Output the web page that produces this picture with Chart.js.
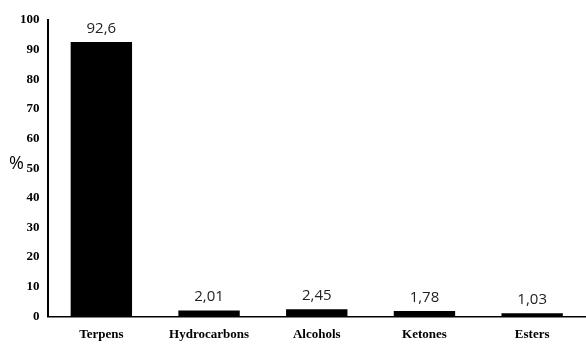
<!DOCTYPE html>
<html lang="en">

<head>
    <meta charset="UTF-8">
    <title>Composition</title>
    <style>
        html, body { margin: 0; padding: 0; background: #fff; }
        .container-grafico { width: 586px; height: 344px; }
    </style>
</head>

<body>
    <div class="container-grafico">
        <canvas id="graficoClasses"></canvas>
    </div>
</body>

</html>
<script src="https://cdn.jsdelivr.net/npm/chart.js"></script>
<script>
    const categorias = ['Terpens', 'Hydrocarbons', 'Alcohols', 'Ketones', 'Esters'];
    const valores = [92.6, 2.01, 2.45, 1.78, 1.03];
    const rotulos = ['92,6', '2,01', '2,45', '1,78', '1,03'];
    const ticksY = [0, 10, 20, 30, 40, 50, 60, 70, 80, 90, 100];

    // values above bars and the "%" title
    const textosExtras = {
        id: 'textosExtras',
        afterDatasetsDraw(chart) {
            const ctx = chart.ctx;
            const meta = chart.getDatasetMeta(0);
            ctx.save();
            ctx.fillStyle = '#222';
            ctx.font = '15px "Open Sans", sans-serif';
            ctx.textAlign = 'center';
            ctx.textBaseline = 'bottom';
            meta.data.forEach(function (barra, i) {
                ctx.fillText(rotulos[i], barra.x, barra.y - 6);
            });
            const y50 = chart.scales.y.getPixelForValue(50);
            ctx.fillStyle = '#000';
            ctx.font = '18px "Open Sans", sans-serif';
            ctx.textAlign = 'left';
            ctx.textBaseline = 'middle';
            ctx.fillText('%', 9, y50 - 4);
            ctx.restore();
        }
    };

    new Chart(document.getElementById('graficoClasses'), {
        type: 'bar',
        data: {
            labels: categorias,
            datasets: [{
                label: '%',
                data: valores,
                backgroundColor: '#000',
                borderWidth: 0,
                categoryPercentage: 1,
                barPercentage: 0.57
            }]
        },
        options: {
            responsive: true,
            maintainAspectRatio: false,
            animation: false,
            layout: { padding: { top: 20, left: 20, right: 0, bottom: 0 } },
            plugins: {
                legend: { display: false },
                tooltip: { enabled: false }
            },
            scales: {
                x: {
                    grid: { display: false },
                    border: { display: true, color: '#000', width: 1.5 },
                    ticks: {
                        color: '#000',
                        padding: 2,
                        font: { family: '"Liberation Serif", serif', size: 13, weight: 'bold' }
                    }
                },
                y: {
                    min: 0,
                    max: 100,
                    afterBuildTicks: function (escala) {
                        escala.ticks = ticksY.map(function (v) { return { value: v }; });
                    },
                    grid: { display: false },
                    border: { display: true, color: '#000', width: 2 },
                    ticks: {
                        color: '#000',
                        padding: 0,
                        font: { family: '"Liberation Serif", serif', size: 13, weight: 'bold' }
                    }
                }
            }
        },
        plugins: [textosExtras]
    });
</script>
